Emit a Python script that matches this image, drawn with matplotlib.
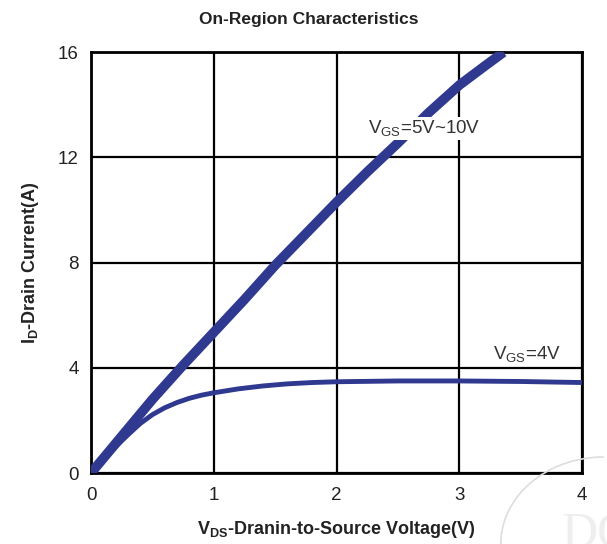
import numpy as np
import matplotlib
matplotlib.use('Agg')
import matplotlib.pyplot as plt
from matplotlib.patches import Arc

plt.rcParams['font.family'] = ['Liberation Sans', 'DejaVu Sans']
plt.rcParams['mathtext.fontset'] = 'custom'
plt.rcParams['mathtext.rm'] = 'Liberation Sans'
plt.rcParams['mathtext.bf'] = 'Liberation Sans:bold'

vds_hi = [0, 0.25, 0.5, 0.75, 1.0, 1.25, 1.5, 1.75, 2.0, 2.25, 2.5, 2.75, 3.0, 3.2, 3.36]
id_hi = [0, 1.4, 2.8, 4.1, 5.35, 6.6, 7.9, 9.1, 10.3, 11.45, 12.55, 13.7, 14.75, 15.45, 16.0]

vds_lo = [0, 0.1, 0.2, 0.3, 0.4, 0.5, 0.6, 0.7, 0.8, 0.9, 1.0, 1.2, 1.4, 1.6, 1.8, 2.0, 2.5, 3.0, 3.5, 4.0]
id_lo = [0, 0.5, 1.0, 1.45, 1.88, 2.22, 2.48, 2.68, 2.84, 2.96, 3.05, 3.2, 3.31, 3.39, 3.44, 3.47, 3.5, 3.5, 3.48, 3.44]

xticks = [0, 1, 2, 3, 4]
yticks = [0, 4, 8, 12, 16]

bleu = '#2F3990'

fig = plt.figure(figsize=(6.07, 5.44), dpi=100)
ax = fig.add_axes([0.150, 0.1305, 0.809, 0.7735])

ax.plot(vds_hi, id_hi, color=bleu, lw=7, solid_capstyle='butt', solid_joinstyle='round', zorder=3)
ax.plot(vds_lo, id_lo, color=bleu, lw=3.5, solid_capstyle='butt', solid_joinstyle='round', zorder=3)

ax.set_xlim(0, 4)
ax.set_ylim(0, 16)
ax.set_xticks(xticks)
ax.set_yticks(yticks)
ax.grid(True, color='black', lw=1.6)
ax.set_axisbelow(True)
for s in ax.spines.values():
    s.set_linewidth(2)
ax.tick_params(length=0, labelsize=13.5, colors='#222222')
ax.tick_params(axis='x', pad=10)
ax.tick_params(axis='y', pad=9)

ax.text(2.71, 13.1, r'V$_\mathregular{GS}$=5V~10V', fontsize=13.5, color='#333333',
        ha='center', va='center', zorder=4,
        bbox=dict(facecolor='white', edgecolor='none', pad=1))
ax.text(3.55, 4.5, r'V$_\mathregular{GS}$=4V', fontsize=13.5, color='#333333',
        ha='center', va='center', zorder=4)

ax.set_xlabel(r'V$_\mathbf{DS}$-Dranin-to-Source Voltage(V)', fontsize=13,
              fontweight='bold', color='#222222', labelpad=11)
ax.set_ylabel(r'I$_\mathbf{D}$-Drain Current(A)', fontsize=13,
              fontweight='bold', color='#222222', labelpad=12)
fig.text(0.509, 0.965, 'On-Region Characteristics', fontsize=12.5, fontweight='bold',
         color='#222222', ha='center', va='center')

# filigrane
arc = Arc((0.995, 0.0), 0.34, 0.32, theta1=90, theta2=200, transform=fig.transFigure,
          color='#dddddd', lw=1.2)
fig.add_artist(arc)
fig.text(0.925, -0.005, 'DO', fontsize=36, color='#eeeeee', family='Liberation Serif')

fig.savefig('out.png', dpi=100)
